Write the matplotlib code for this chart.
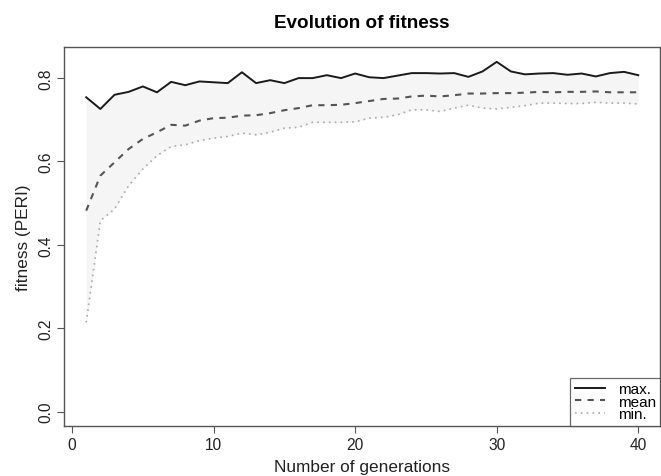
import numpy as np
import matplotlib.pyplot as plt

plt.rcParams['font.family'] = ['Liberation Sans', 'DejaVu Sans']

# fitness per generation
generations = list(range(1, 41))
fit_max = [0.754, 0.726, 0.760, 0.767, 0.780, 0.766, 0.791, 0.783, 0.792, 0.790,
           0.788, 0.814, 0.788, 0.795, 0.788, 0.800, 0.800, 0.807, 0.800, 0.811,
           0.802, 0.800, 0.806, 0.812, 0.812, 0.811, 0.812, 0.803, 0.816, 0.839,
           0.816, 0.809, 0.811, 0.812, 0.808, 0.811, 0.804, 0.812, 0.815, 0.807]
fit_mean = [0.482, 0.566, 0.598, 0.630, 0.654, 0.670, 0.688, 0.686, 0.698, 0.704,
            0.705, 0.710, 0.711, 0.716, 0.723, 0.728, 0.735, 0.735, 0.736, 0.740,
            0.745, 0.750, 0.751, 0.756, 0.758, 0.756, 0.759, 0.763, 0.763, 0.764,
            0.764, 0.765, 0.767, 0.766, 0.767, 0.767, 0.768, 0.766, 0.766, 0.766]
fit_min = [0.214, 0.458, 0.486, 0.542, 0.582, 0.614, 0.636, 0.640, 0.650, 0.656,
           0.660, 0.668, 0.664, 0.670, 0.680, 0.682, 0.694, 0.694, 0.694, 0.695,
           0.704, 0.706, 0.712, 0.724, 0.724, 0.720, 0.728, 0.735, 0.728, 0.726,
           0.730, 0.734, 0.740, 0.740, 0.739, 0.739, 0.742, 0.740, 0.740, 0.738]

fig = plt.figure(figsize=(6.61, 4.77), dpi=100)
ax = fig.add_axes([0.097, 0.1055, 0.902, 0.793])

ax.fill_between(generations, fit_min, fit_max, color="#f5f5f5", lw=0)
ax.plot(generations, fit_max, color="#1a1a1a", lw=1.4, ls="-", label="max.")
ax.plot(generations, fit_mean, color="#555555", lw=1.5, ls=(0, (3, 3)), label="mean")
ax.plot(generations, fit_min, color="#aaaaaa", lw=1.2, ls=(0, (1, 2.5)), label="min.")

ax.set_xlim(1 - 0.04 * 39, 40 + 0.04 * 39)
ax.set_ylim(-0.04 * 0.84, 0.84 + 0.04 * 0.84)
ax.set_xticks([0, 10, 20, 30, 40])
ax.set_yticks([0.0, 0.2, 0.4, 0.6, 0.8])
ax.set_yticklabels(["0.0", "0.2", "0.4", "0.6", "0.8"], rotation=90, va="center")

for s in ax.spines.values():
    s.set_color("#555555")
    s.set_linewidth(1.0)
ax.tick_params(colors="#555555", labelcolor="#222222", labelsize=11.2, length=5, width=0.8, pad=3)

ax.set_xlabel("Number of generations", fontsize=12.4, color="#222222", labelpad=5)
ax.set_ylabel("fitness (PERI)", fontsize=12.4, color="#222222", labelpad=5)
ax.set_title("Evolution of fitness", fontsize=13.6, fontweight="bold", pad=15)

leg = ax.legend(loc="lower right", fontsize=11, frameon=True, fancybox=False,
                borderaxespad=0, handlelength=2.0, labelspacing=-0.1,
                handletextpad=0.8, borderpad=0.3)
leg.get_frame().set_edgecolor("#444444")
leg.get_frame().set_linewidth(0.9)

plt.savefig("out.png", dpi=100)
